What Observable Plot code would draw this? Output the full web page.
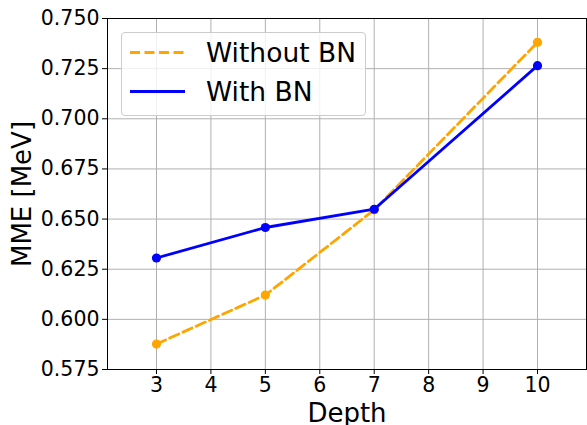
<!DOCTYPE html>
<html>
<head>
<meta charset="utf-8">
<script src="https://cdn.jsdelivr.net/npm/d3@7"></script>
<script src="https://cdn.jsdelivr.net/npm/@observablehq/plot@0.6"></script>
<style>
  html, body { margin: 0; padding: 0; background: #fff; }
  #wrap { position: relative; width: 587px; height: 425px; font-family: "DejaVu Sans", sans-serif; }
  #legend { position: absolute; left: 121px; top: 32px; width: 245px; height: 84px;
            border: 1px solid #cccccc; border-radius: 4px; background: rgba(255,255,255,0.8);
            box-sizing: border-box; }
</style>
</head>
<body>
<div id="wrap"></div>
<script>
const depths = [3, 5, 7, 10];
const withoutBN = [0.5877, 0.6121, 0.6546, 0.7381];
const withBN = [0.6306, 0.6458, 0.6549, 0.7265];
const seriesNames = ["Without BN", "With BN"];
const seriesColors = ["orange", "blue"];
const xTicks = [3, 4, 5, 6, 7, 8, 9, 10];
const yTicks = [0.575, 0.600, 0.625, 0.650, 0.675, 0.700, 0.725, 0.750];

const rows = [];
depths.forEach((d, i) => {
  rows.push({depth: d, mme: withoutBN[i], series: seriesNames[0]});
});
depths.forEach((d, i) => {
  rows.push({depth: d, mme: withBN[i], series: seriesNames[1]});
});
const s0 = rows.filter(r => r.series === seriesNames[0]);
const s1 = rows.filter(r => r.series === seriesNames[1]);

const chart = Plot.plot({
  width: 587,
  height: 425,
  marginLeft: 107,
  marginRight: 1,
  marginTop: 18,
  marginBottom: 56,
  style: {fontFamily: "DejaVu Sans, sans-serif", color: "black", background: "white"},
  x: {domain: [2.1, 10.9]},
  y: {domain: [0.575, 0.75]},
  marks: [
    Plot.gridX(xTicks, {stroke: "#b0b0b0", strokeOpacity: 1, strokeWidth: 1}),
    Plot.gridY(yTicks, {stroke: "#b0b0b0", strokeOpacity: 1, strokeWidth: 1}),
    Plot.frame({stroke: "black", strokeWidth: 1}),
    Plot.axisX({ticks: xTicks, tickSize: 5, tickPadding: 3, fontSize: 20.5, label: null, tickFormat: d3.format("d")}),
    Plot.axisY({ticks: yTicks, tickSize: 5, tickPadding: 3, fontSize: 20.5, label: null, tickFormat: d3.format(".3f")}),
    Plot.line(s0, {x: "depth", y: "mme", stroke: seriesColors[0], strokeWidth: 2.8, strokeDasharray: "10,4.5"}),
    Plot.dot(s0, {x: "depth", y: "mme", r: 4.6, fill: seriesColors[0], stroke: "none"}),
    Plot.line(s1, {x: "depth", y: "mme", stroke: seriesColors[1], strokeWidth: 2.8}),
    Plot.dot(s1, {x: "depth", y: "mme", r: 4.6, fill: seriesColors[1], stroke: "none"}),
    Plot.text(["Depth"], {frameAnchor: "bottom", textAnchor: "middle", lineAnchor: "bottom", dy: 52, fontSize: 26, fill: "black"}),
    Plot.text(["MME [MeV]"], {frameAnchor: "left", textAnchor: "middle", lineAnchor: "middle", dx: -85, rotate: -90, fontSize: 26, fill: "black"})
  ]
});

const wrap = document.getElementById("wrap");
wrap.appendChild(chart);

// Legend built from series arrays
const legend = document.createElement("div");
legend.id = "legend";
const ns = "http://www.w3.org/2000/svg";
const lsvg = document.createElementNS(ns, "svg");
lsvg.setAttribute("width", 243);
lsvg.setAttribute("height", 82);
lsvg.style.position = "absolute";
lsvg.style.left = "0px";
lsvg.style.top = "0px";
seriesNames.forEach((name, i) => {
  const cy = 19.5 + i * 39;
  const ln = document.createElementNS(ns, "line");
  ln.setAttribute("x1", 8); ln.setAttribute("x2", 63);
  ln.setAttribute("y1", cy); ln.setAttribute("y2", cy);
  ln.setAttribute("stroke", seriesColors[i]);
  ln.setAttribute("stroke-width", 2.8);
  if (i === 0) ln.setAttribute("stroke-dasharray", "10,4.5");
  lsvg.appendChild(ln);
  const t = document.createElementNS(ns, "text");
  t.setAttribute("x", 84);
  t.setAttribute("y", cy);
  t.setAttribute("dy", "0.36em");
  t.setAttribute("font-size", 26.5);
  t.setAttribute("font-family", "DejaVu Sans, sans-serif");
  t.setAttribute("fill", "black");
  t.textContent = name;
  lsvg.appendChild(t);
});
legend.appendChild(lsvg);
wrap.appendChild(legend);
</script>
</body>
</html>
